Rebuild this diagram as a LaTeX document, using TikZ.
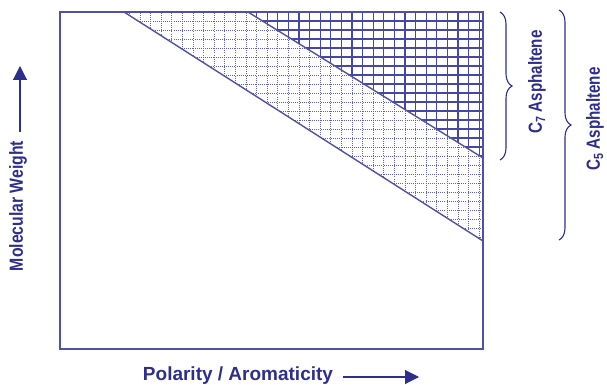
\documentclass[tikz,border=0pt]{standalone}
\usepackage{fontspec}
\setmainfont{Liberation Sans}
\usetikzlibrary{decorations.pathreplacing,arrows.meta}
\definecolor{navy}{RGB}{46,46,140}
\definecolor{boxc}{RGB}{80,80,165}
\definecolor{gridc}{RGB}{70,70,165}
\tikzset{
  frame/.style={draw=boxc, line width=1.1pt},
  diag/.style={draw=boxc, line width=1.4pt},
  lgrid/.style={draw=gridc!85, line width=0.8pt, dash pattern=on 1pt off 1.1pt},
  dgrid/.style={draw=gridc, line width=1.1pt},
  bracec/.style={draw=navy, line width=1.1pt, decorate, decoration={brace, amplitude=12pt}},
  lbl/.style={text=navy, font=\fontsize{19}{21}\selectfont\bfseries, inner sep=0pt},
  axarrow/.style={draw=navy, line width=1.1pt, -{Triangle[length=14pt,width=14pt]}}
}
\begin{document}
\begin{tikzpicture}[x=1pt,y=-1pt]
\useasboundingbox (0,0) rectangle (607,385);
% corners
\coordinate (tl) at (60,12);
\coordinate (tr) at (483,12);
\coordinate (br) at (483,349);
\coordinate (bl) at (60,349);
\coordinate (a1) at (124,12);
\coordinate (a2) at (483,241);
\coordinate (b1) at (248,12);
\coordinate (b2) at (483,158);
% light grid
\begin{scope}
  \clip (a1) -- (b1) -- (b2) -- (a2) -- cycle;
  \foreach \i in {-27,...,8} \draw[lgrid] ({405+10.6*\i},0) -- ({405+10.6*\i},260);
  \foreach \k in {0,...,27} \draw[lgrid] (100,{12+9*\k}) -- (490,{12+9*\k});
\end{scope}
% dark grid
\begin{scope}
  \clip (b1) -- (tr) -- (b2) -- cycle;
  \foreach \i in {-17,...,8} \draw[dgrid] ({405+10.6*\i},0) -- ({405+10.6*\i},170);
  \foreach \k in {0,...,18} \draw[dgrid] (240,{12+9*\k}) -- (490,{12+9*\k});
\end{scope}
% diagonals
\draw[diag] (a1) -- (a2);
\draw[diag] (b1) -- (b2);
% frame
\draw[frame] (tl) -- (tr) -- (br) -- (bl) -- cycle;
% braces
\coordinate (c7t) at (500,12);
\coordinate (c7b) at (500,160);
\coordinate (c5t) at (559,10);
\coordinate (c5b) at (559,240);
\draw[bracec] (c7t) -- (c7b);
\draw[bracec] (c5t) -- (c5b);
\node[lbl, rotate=90] (c7) at (537,82) {\scalebox{0.8}[1]{C\textsubscript{7} Asphaltene}};
\node[lbl, rotate=90] (c5) at (595,119) {\scalebox{0.8}[1]{C\textsubscript{5} Asphaltene}};
% axes labels
\node[lbl, rotate=90] (mw) at (18,206) {\scalebox{0.83}[1]{Molecular Weight}};
\coordinate (mwa) at (20,132);
\coordinate (mwb) at (20,66);
\draw[axarrow] (mwa) -- (mwb);
\node[lbl] (pa) at (238,376) {Polarity / Aromaticity};
\coordinate (paa) at (343,377);
\coordinate (pab) at (419,377);
\draw[axarrow] (paa) -- (pab);
\end{tikzpicture}
\end{document}
